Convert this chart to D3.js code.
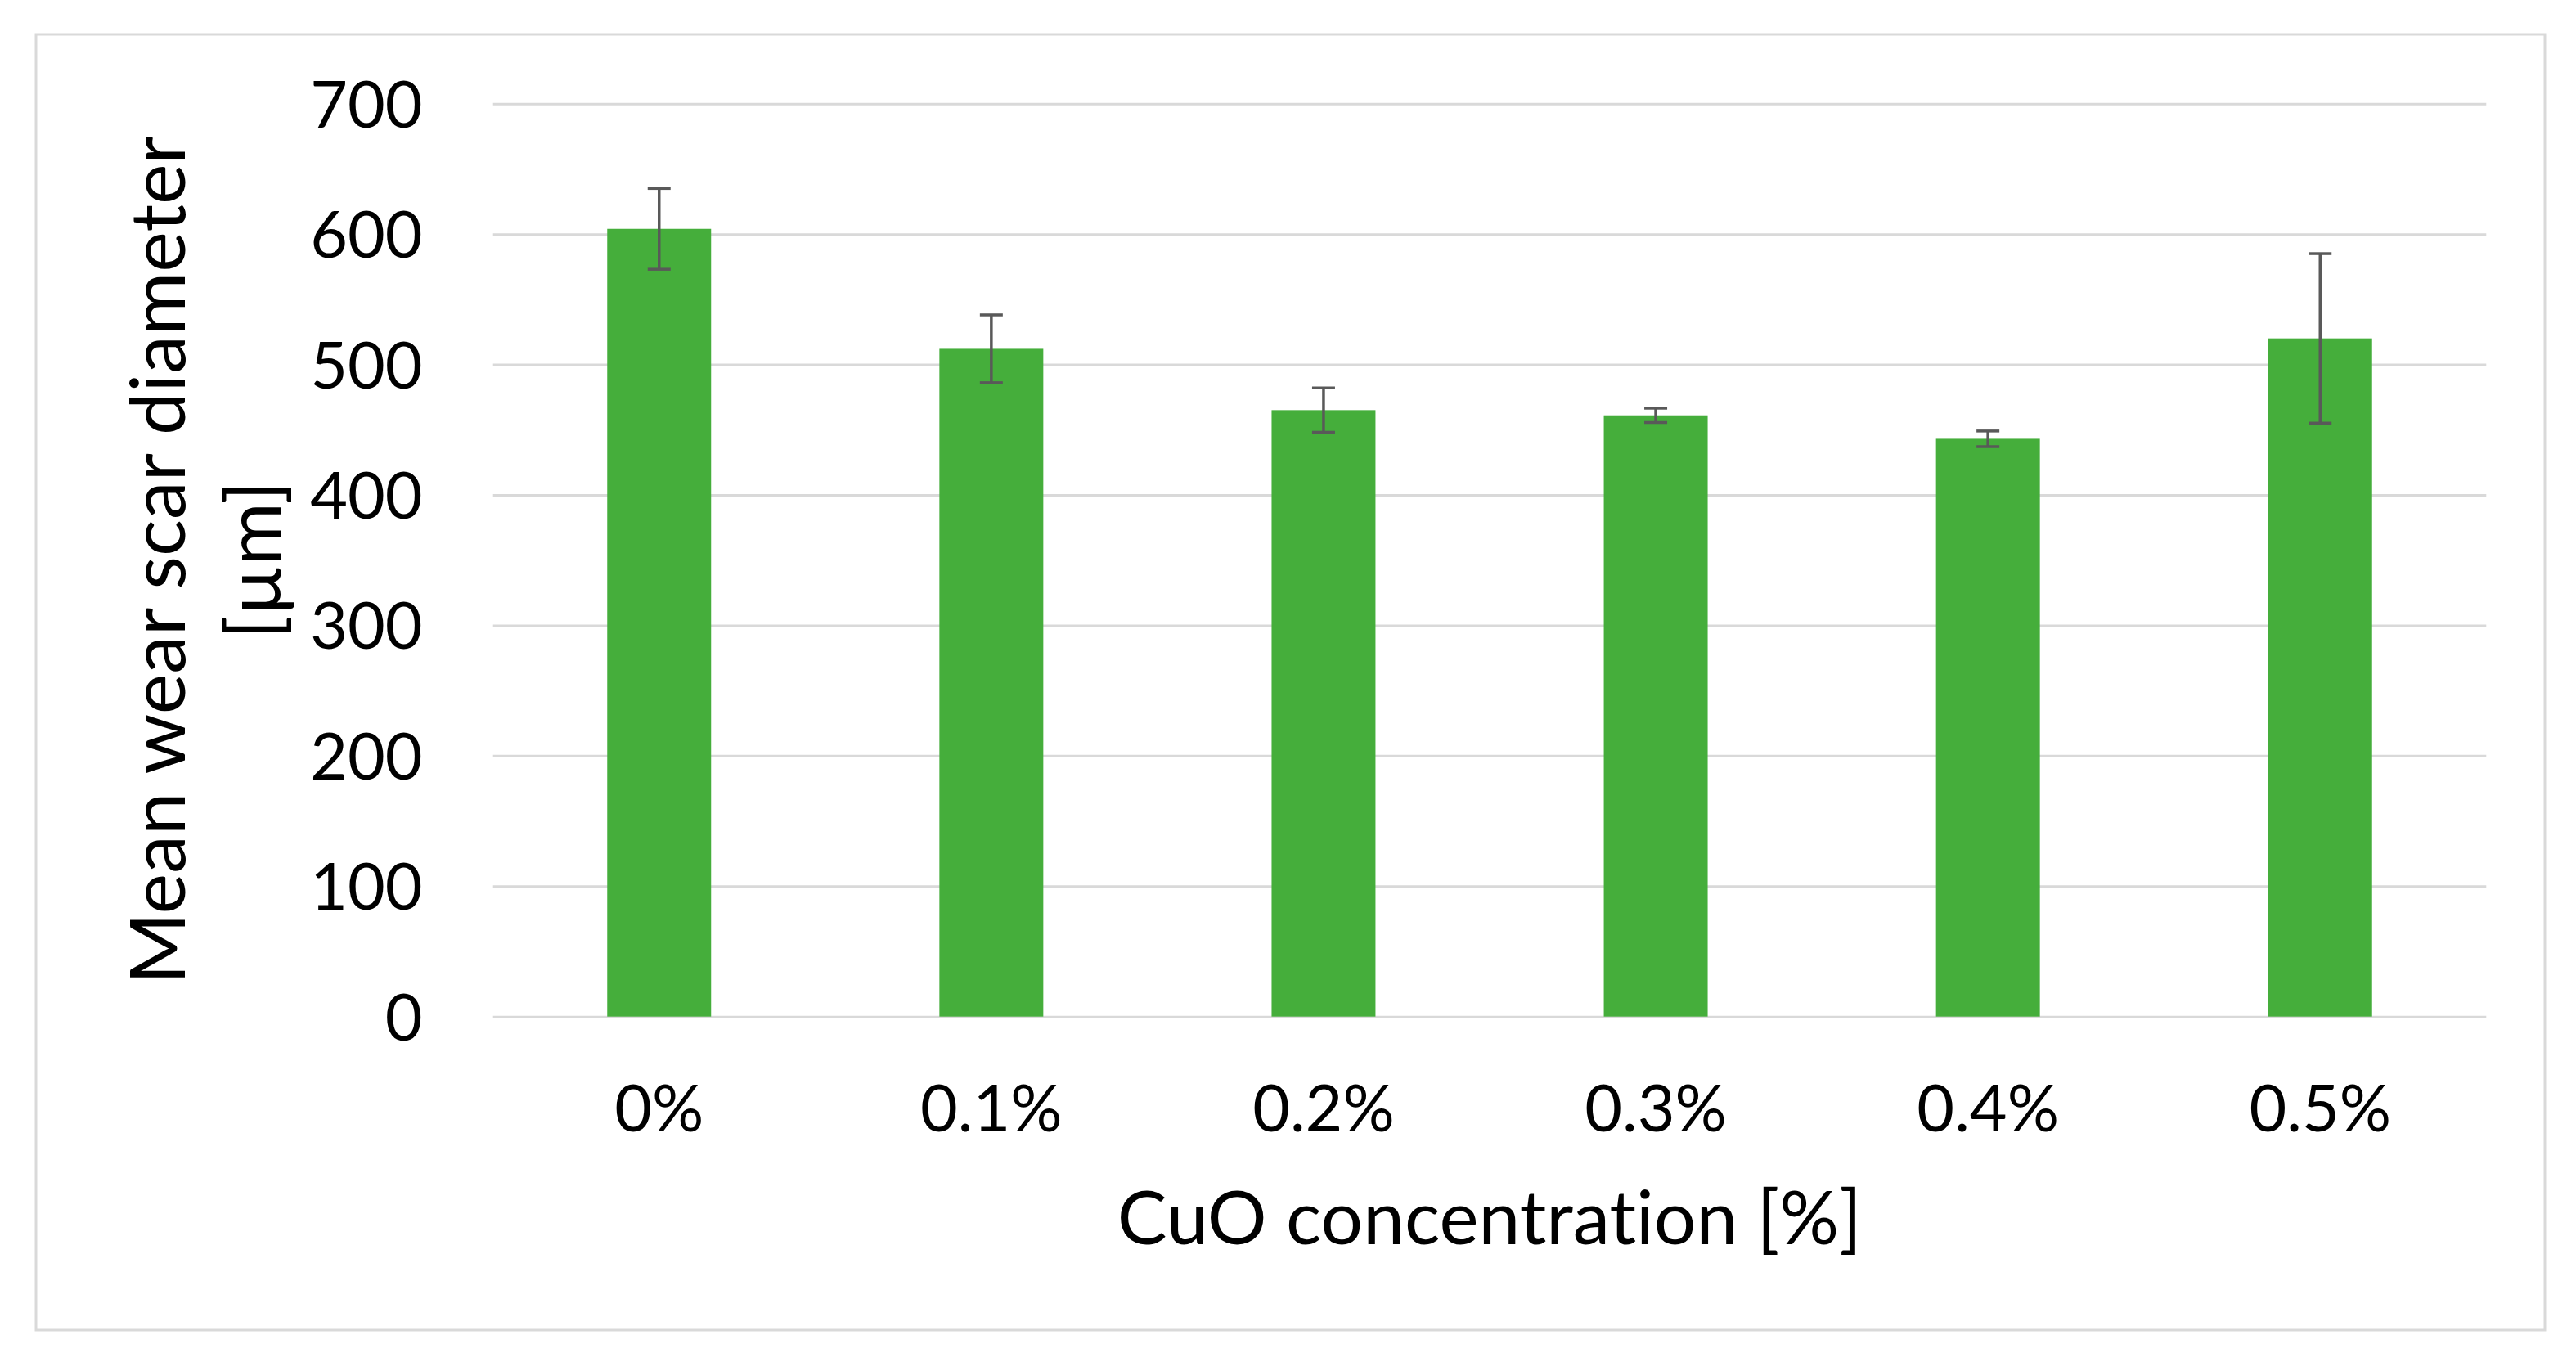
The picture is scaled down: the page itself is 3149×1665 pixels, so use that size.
<!DOCTYPE html>
<html>
<head>
<meta charset="utf-8">
<script src="https://cdn.jsdelivr.net/npm/d3@7"></script>
<style>
  html, body { margin: 0; padding: 0; background: #ffffff; }
  svg { display: block; }
  text { font-family: "Lato", "Open Sans", sans-serif; fill: #000;
         font-variant-ligatures: none; font-feature-settings: "liga" 0, "clig" 0; }
</style>
</head>
<body>
<svg id="chart" width="3149" height="1665"></svg>
<script>
// ---- data ----
const categories = ["0%", "0.1%", "0.2%", "0.3%", "0.4%", "0.5%"];
const meanValues = [604, 512, 465, 461, 443, 520];
const errorValues = [31, 26, 17, 5.5, 6, 65];
const yTickValues = [0, 100, 200, 300, 400, 500, 600, 700];
const xTitle = "CuO concentration [%]";
const yTitleLines = ["Mean wear scar diameter", "[µm]"];

// ---- layout ----
const W = 3149, H = 1665;
const plot = { left: 602.7, right: 3039.3, top: 126.7, bottom: 1242.7 };
const barColor = "#45ae3b";
const gridColor = "#d9d9d9";
const errColor = "#595959";
const tickFont = 79;
const xTitleFont = 91;
const yTitleFont = 94;

const svg = d3.select("#chart");
svg.append("rect").attr("width", W).attr("height", H).attr("fill", "#fff");

// outer frame
svg.append("rect")
  .attr("x", 44).attr("y", 42)
  .attr("width", 3067).attr("height", 1584)
  .attr("fill", "none").attr("stroke", gridColor).attr("stroke-width", 3);

const x = d3.scaleBand()
  .domain(categories)
  .range([plot.left, plot.right])
  .paddingInner(0.6873)
  .paddingOuter(0.6873 / 2);

const y = d3.scaleLinear()
  .domain([0, 700])
  .range([plot.bottom, plot.top]);

// y axis with gridlines
const yAxis = svg.append("g")
  .attr("transform", `translate(${plot.left},0)`)
  .call(d3.axisLeft(y)
    .tickValues(yTickValues)
    .tickSizeInner(-(plot.right - plot.left))
    .tickSizeOuter(0)
    .tickPadding(86));
yAxis.select(".domain").remove();
yAxis.selectAll(".tick line").attr("stroke", gridColor).attr("stroke-width", 3);
yAxis.selectAll(".tick text")
  .attr("font-size", tickFont)
  .attr("font-family", "Lato")
  .attr("fill", "#000")
  .attr("dy", "0.36em");

// x axis labels
const xAxis = svg.append("g")
  .attr("transform", `translate(0,${plot.bottom})`)
  .call(d3.axisBottom(x).tickSize(0).tickPadding(0));
xAxis.select(".domain").remove();
xAxis.selectAll(".tick text")
  .attr("font-size", tickFont)
  .attr("font-family", "Lato")
  .attr("fill", "#000")
  .attr("y", 140.6)
  .attr("dy", "0");

// bars
const data = categories.map((c, i) => ({ c, v: meanValues[i], e: errorValues[i] }));
svg.append("g").selectAll("rect")
  .data(data).join("rect")
  .attr("x", d => x(d.c))
  .attr("y", d => y(d.v))
  .attr("width", x.bandwidth())
  .attr("height", d => y(0) - y(d.v))
  .attr("fill", barColor);

// error bars
const capHalf = 14;
const eg = svg.append("g").attr("stroke", errColor).attr("stroke-width", 3.5);
data.forEach(d => {
  const cx = x(d.c) + x.bandwidth() / 2;
  eg.append("line").attr("x1", cx).attr("x2", cx)
    .attr("y1", y(d.v + d.e)).attr("y2", y(d.v - d.e));
  eg.append("line").attr("x1", cx - capHalf).attr("x2", cx + capHalf)
    .attr("y1", y(d.v + d.e)).attr("y2", y(d.v + d.e));
  eg.append("line").attr("x1", cx - capHalf).attr("x2", cx + capHalf)
    .attr("y1", y(d.v - d.e)).attr("y2", y(d.v - d.e));
});

// axis titles
svg.append("text")
  .attr("x", (plot.left + plot.right) / 2)
  .attr("y", 1521)
  .attr("text-anchor", "middle")
  .attr("font-size", xTitleFont)
  .text(xTitle);

const yMid = (plot.top + plot.bottom) / 2;
const yBase = [226, 343];
yTitleLines.forEach((t, i) => {
  svg.append("text")
    .attr("transform", `translate(${yBase[i]},${yMid}) rotate(-90)`)
    .attr("text-anchor", "middle")
    .attr("font-size", yTitleFont)
    .text(t);
});
</script>
</body>
</html>
